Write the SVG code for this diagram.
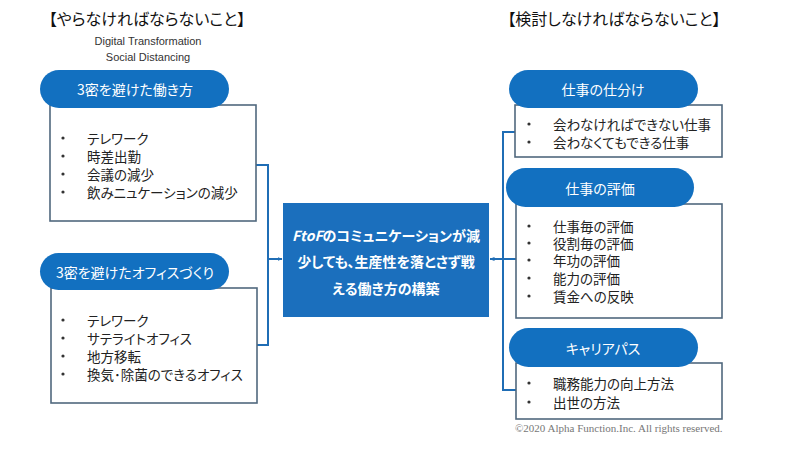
<svg xmlns="http://www.w3.org/2000/svg" width="800" height="450" viewBox="0 0 800 450">
<defs>
<marker id="arr" viewBox="0 0 10 10" refX="9" refY="5" markerWidth="5" markerHeight="5" orient="auto" markerUnits="userSpaceOnUse">
<path d="M0,1 L10,5 L0,9 z" fill="#1f6db5"/>
</marker>
<style>
.jp{font-family:"Noto Sans CJK JP","Noto Sans",sans-serif;font-feature-settings:"palt";}
.title{font-size:16px;fill:#111;}
.sub{font-family:"Liberation Sans","DejaVu Sans",sans-serif;font-size:11px;fill:#333;}
.pill{fill:#1270c0;}
.pilltxt{font-size:14px;fill:#fff;}
.box{fill:#fff;stroke:#50687e;stroke-width:1.6;}
.item{font-size:13.5px;fill:#222;}
.dot{fill:#333;}
.center{fill:#1b6fbd;}
.ctxt{font-size:14px;fill:#fff;font-weight:bold;}
.conn{fill:none;stroke:#1f6db5;stroke-width:2;}
.copy{font-family:"Liberation Serif",serif;font-size:11px;fill:#777;}
</style>
</defs>
<rect width="800" height="450" fill="#fff"/>

<text class="jp title" x="147" y="18" text-anchor="middle" dominant-baseline="central">【やらなければならないこと】</text>
<text class="sub" x="148" y="45" text-anchor="middle">Digital Transformation</text>
<text class="sub" x="148" y="61" text-anchor="middle">Social Distancing</text>
<text class="jp title" x="614" y="18" text-anchor="middle" dominant-baseline="central">【検討しなければならないこと】</text>

<g id="connectors">
<path class="conn" d="M256,165 H268 V345 H257"/>
<path class="conn" d="M268,259 H282" marker-end="url(#arr)"/>
<path class="conn" d="M515,132 H503 V390 H516"/>
<path class="conn" d="M516,259 H490" marker-end="url(#arr)"/>
</g>

<g id="left1">
<rect class="box" x="50" y="105" width="206" height="116"/>
<rect class="pill" x="40" y="70" width="189" height="38" rx="19"/>
<text class="jp pilltxt" x="135" y="89" text-anchor="middle" dominant-baseline="central">3密を避けた働き方</text>
<g class="jp item">
<circle class="dot" cx="63" cy="138" r="1.6"/><text x="87" y="138" dominant-baseline="central">テレワーク</text>
<circle class="dot" cx="63" cy="156" r="1.6"/><text x="87" y="156" dominant-baseline="central">時差出勤</text>
<circle class="dot" cx="63" cy="174" r="1.6"/><text x="87" y="174" dominant-baseline="central">会議の減少</text>
<circle class="dot" cx="63" cy="192" r="1.6"/><text x="87" y="192" dominant-baseline="central">飲みニュケーションの減少</text>
</g>
</g>

<g id="left2">
<rect class="box" x="51" y="288" width="206" height="115"/>
<rect class="pill" x="40" y="253" width="189" height="37" rx="18.5"/>
<text class="jp pilltxt" x="135" y="271.5" text-anchor="middle" dominant-baseline="central">3密を避けたオフィスづくり</text>
<g class="jp item">
<circle class="dot" cx="63" cy="320" r="1.6"/><text x="87" y="320" dominant-baseline="central">テレワーク</text>
<circle class="dot" cx="63" cy="338" r="1.6"/><text x="87" y="338" dominant-baseline="central">サテライトオフィス</text>
<circle class="dot" cx="63" cy="356" r="1.6"/><text x="87" y="356" dominant-baseline="central">地方移転</text>
<circle class="dot" cx="63" cy="374" r="1.6"/><text x="87" y="374" dominant-baseline="central">換気･除菌のできるオフィス</text>
</g>
</g>

<g id="center">
<rect class="center" x="283" y="203" width="206" height="114"/>
<text class="jp ctxt" x="386" y="235" text-anchor="middle" dominant-baseline="central"><tspan font-style="italic">FtoF</tspan>のコミュニケーションが減</text>
<text class="jp ctxt" x="386" y="261" text-anchor="middle" dominant-baseline="central">少しても、生産性を落とさず戦</text>
<text class="jp ctxt" x="386" y="288" text-anchor="middle" dominant-baseline="central">える働き方の構築</text>
</g>

<g id="right1">
<rect class="box" x="515" y="105" width="207" height="52"/>
<rect class="pill" x="509" y="70" width="189" height="38" rx="19"/>
<text class="jp pilltxt" x="603" y="89" text-anchor="middle" dominant-baseline="central">仕事の仕分け</text>
<g class="jp item">
<circle class="dot" cx="529" cy="124" r="1.6"/><text x="553" y="124" dominant-baseline="central">会わなければできない仕事</text>
<circle class="dot" cx="529" cy="142" r="1.6"/><text x="553" y="142" dominant-baseline="central">会わなくてもできる仕事</text>
</g>
</g>

<g id="right2">
<rect class="box" x="516" y="204" width="206" height="114"/>
<rect class="pill" x="506" y="168" width="188" height="39" rx="19.5"/>
<text class="jp pilltxt" x="600" y="187.5" text-anchor="middle" dominant-baseline="central">仕事の評価</text>
<g class="jp item">
<circle class="dot" cx="529" cy="226" r="1.6"/><text x="553" y="226" dominant-baseline="central">仕事毎の評価</text>
<circle class="dot" cx="529" cy="243" r="1.6"/><text x="553" y="243" dominant-baseline="central">役割毎の評価</text>
<circle class="dot" cx="529" cy="260" r="1.6"/><text x="553" y="260" dominant-baseline="central">年功の評価</text>
<circle class="dot" cx="529" cy="278" r="1.6"/><text x="553" y="278" dominant-baseline="central">能力の評価</text>
<circle class="dot" cx="529" cy="296" r="1.6"/><text x="553" y="296" dominant-baseline="central">賃金への反映</text>
</g>
</g>

<g id="right3">
<rect class="box" x="516" y="363" width="206" height="56"/>
<rect class="pill" x="509" y="328" width="189" height="39" rx="19.5"/>
<text class="jp pilltxt" x="603" y="347.5" text-anchor="middle" dominant-baseline="central">キャリアパス</text>
<g class="jp item">
<circle class="dot" cx="529" cy="383" r="1.6"/><text x="553" y="383" dominant-baseline="central">職務能力の向上方法</text>
<circle class="dot" cx="529" cy="402" r="1.6"/><text x="553" y="402" dominant-baseline="central">出世の方法</text>
</g>
</g>

<text class="copy" x="515" y="432">©2020  Alpha Function.Inc. All rights reserved.</text>
</svg>
